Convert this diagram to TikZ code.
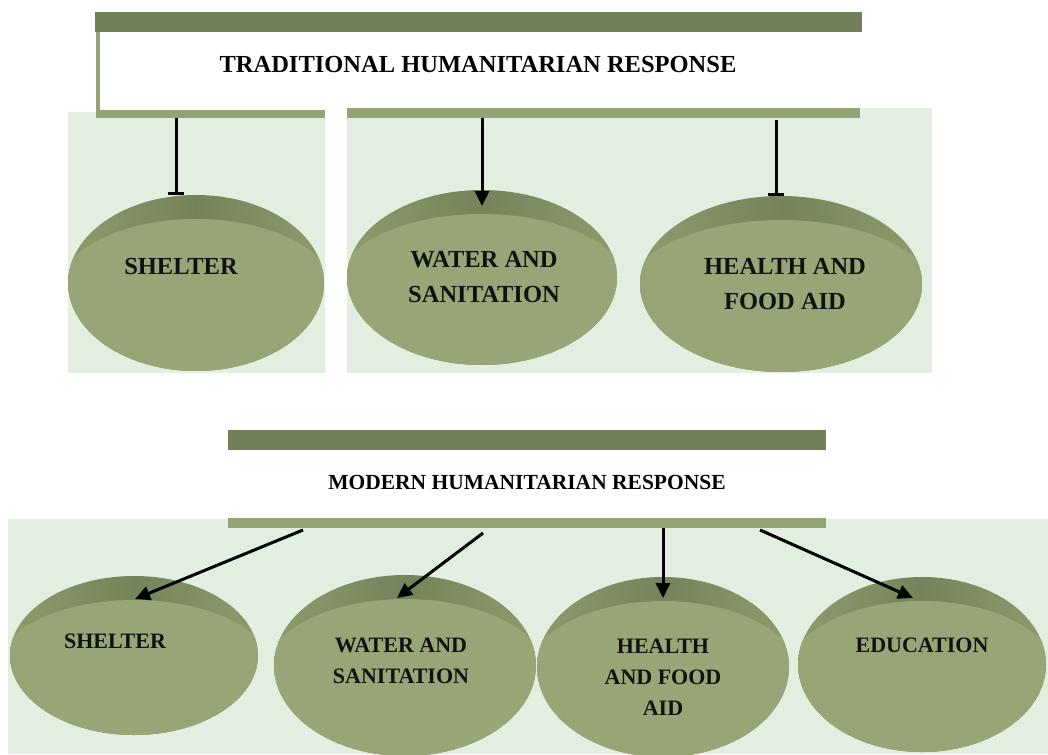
\documentclass[tikz,border=0pt]{standalone}
\usepackage{fontspec}
\setmainfont{Liberation Serif}
\usetikzlibrary{arrows.meta,shapes.geometric,calc}
\definecolor{bardark}{HTML}{72805A}
\definecolor{barlight}{HTML}{95A274}
\definecolor{panel}{HTML}{E2EFE0}
\definecolor{facecol}{HTML}{97A577}
\definecolor{rimdark}{HTML}{75835A}
\definecolor{rimlight}{HTML}{8D9B6C}
\definecolor{labelcol}{HTML}{111111}
\tikzset{
  barbox/.style={rectangle, inner sep=0pt, outer sep=0pt},
  rimnode/.style={ellipse, inner sep=0pt, outer sep=0pt, left color=rimlight, right color=rimlight, middle color=rimdark},
  toplabel/.style={align=center, text=labelcol, font=\bfseries\fontsize{24.5}{35}\selectfont, inner sep=0pt},
  botlabel/.style={align=center, text=labelcol, font=\bfseries\fontsize{22}{31}\selectfont, inner sep=0pt},
  titlebox/.style={inner sep=0pt, font=\bfseries\fontsize{24.5}{28}\selectfont},
  conn/.style={line width=3pt, draw=black},
  arrowconn/.style={conn, -{Triangle[length=15pt,width=14pt]}},
  barconn/.style={conn, -{Bar[width=16pt]}},
}
% name, cx, top, bottom, rx
\newcommand\mydisc[5]{%
  \node[rimnode, minimum width={#5*2pt}, minimum height={(#4-#3)*1pt}] (#1) at (#2, {(#3+#4)/2}) {};
  \begin{scope}
    \clip (#2, {(#3+#4)/2}) ellipse [x radius={#5*1pt}, y radius={(#4-#3)/2*1pt}];
    \fill[facecol] (#2, {(#3+24+#4)/2}) ellipse [x radius={#5*1.1pt}, y radius={(#4-#3-24)/2*1pt}];
  \end{scope}
}
\begin{document}
\begin{tikzpicture}[x=1pt,y=-1pt]
\useasboundingbox (0,0) rectangle (1048,754);
\clip (0,0) rectangle (1048,754);
\fill[white] (0,0) rectangle (1048,754);

% ---------- traditional ----------
\fill[panel] (68,112) rectangle (325,373);
\fill[panel] (347,108) rectangle (932,373);
\node[barbox, fill=bardark, minimum width=767pt, minimum height=20pt] (tbar) at (478.5,22) {};
\node[barbox, fill=barlight, minimum width=4pt, minimum height=86pt] (tside) at (98,75) {};
\node[barbox, fill=barlight, minimum width=228pt, minimum height=8pt] (tbotl) at (211,114) {};
\node[barbox, fill=barlight, minimum width=513pt, minimum height=10pt] (tbotr) at (603.5,113) {};
\node[titlebox] (trad) at (478,65) {TRADITIONAL HUMANITARIAN RESPONSE};

\mydisc{tshelter}{196}{195}{371}{128}
\mydisc{twater}{482}{190}{365}{135}
\mydisc{thealth}{781}{196}{372}{141}
\node[toplabel] (tshelterlab) at (181,267) {SHELTER};
\node[toplabel] (twaterlab) at (484,277) {WATER AND\\SANITATION};
\node[toplabel] (thealthlab) at (785,284) {HEALTH AND\\FOOD AID};

\coordinate (ts1) at ($(tbotl.south west)+(79,0)$);
\coordinate (ts2) at ($(tbotr.south west)+(135,0)$);
\coordinate (ts3) at ($(tbotr.south west)+(429,2)$);
\draw[barconn] (ts1) -- (ts1 |- tshelter.north);
\draw[arrowconn] (ts2) -- ($(ts2 |- twater.north)+(0,16)$);
\draw[barconn] (ts3) -- (ts3 |- thealth.north);

% ---------- modern ----------
\fill[panel] (8,519) rectangle (1048,754);
\node[barbox, fill=bardark, minimum width=598pt, minimum height=20pt] (mbar) at (527,440) {};
\node[barbox, fill=barlight, minimum width=598pt, minimum height=10pt] (mbot) at (527,523) {};
\node[titlebox, font=\bfseries\fontsize{21.5}{26}\selectfont] (modern) at (527,482) {MODERN HUMANITARIAN RESPONSE};

\mydisc{mshelter}{134}{576}{735}{124}
\mydisc{mwater}{405}{575}{756}{131}
\mydisc{mhealth}{663}{577}{757}{126}
\mydisc{meducation}{922}{577}{752}{124}
\node[botlabel] (mshelterlab) at (115,641) {SHELTER};
\node[botlabel] (mwaterlab) at (401,661) {WATER AND\\SANITATION};
\node[botlabel] (mhealthlab) at (663,677) {HEALTH\\AND FOOD\\AID};
\node[botlabel] (meducationlab) at (922,645) {EDUCATION};

\coordinate (ms1) at ($(mbot.south west)+(75,2)$);
\coordinate (ms2) at ($(mbot.south west)+(255,5)$);
\coordinate (ms3) at ($(mbot.south west)+(435,0)$);
\coordinate (ms4) at ($(mbot.south west)+(532,2)$);
\draw[arrowconn] (ms1) -- ($(mshelter.north)+(1,23)$);
\draw[arrowconn] (ms2) -- ($(mwater.north)+(-8,23)$);
\draw[arrowconn] (ms3) -- ($(ms3 |- mhealth.north)+(0,21)$);
\draw[arrowconn] (ms4) -- ($(meducation.north)+(-9,21)$);
\end{tikzpicture}
\end{document}
